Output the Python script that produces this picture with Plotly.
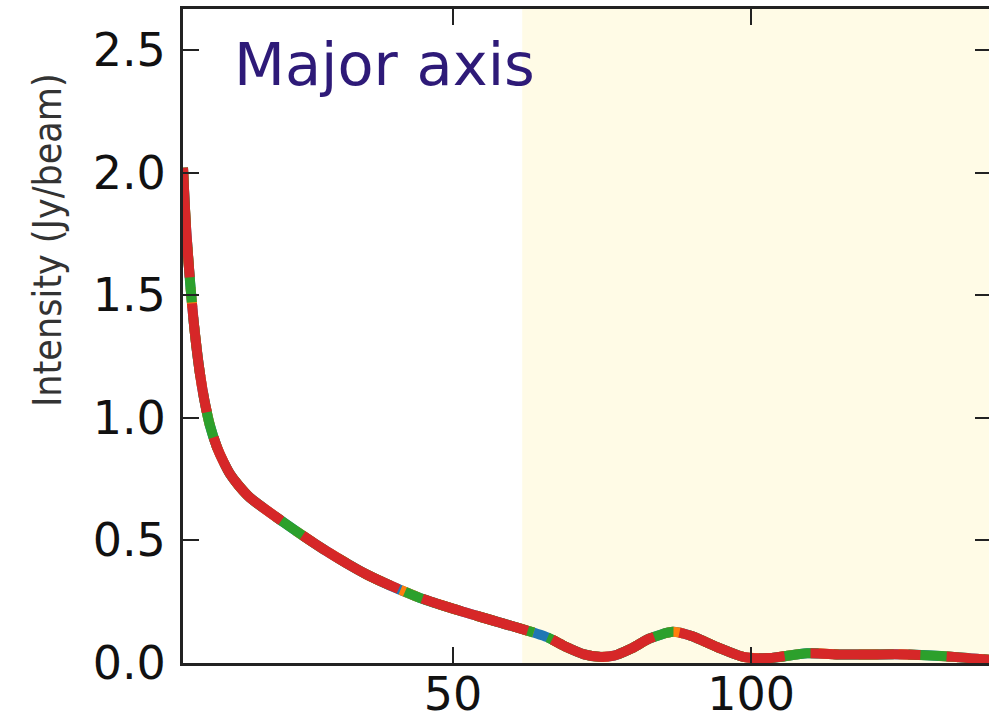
import plotly.graph_objects as go

# ---- data ----
radius = [4.7, 5.2, 5.9, 6.5, 7.0, 7.6, 8.3, 9.2, 10.4, 11.5, 12.6, 14.0, 15.9, 21.5,
          28.2, 35.6, 44.0, 49.5, 55.0, 60.0, 65.8, 69.0, 72.0, 74.5, 77.0, 80.0,
          83.0, 86.9, 90.0, 94.3, 98.7, 103.0, 109.4, 115.0, 120.0, 126.0, 134.0, 140.4]
intensity = [2.02, 1.78, 1.55, 1.39, 1.28, 1.17, 1.07, 0.97, 0.88, 0.82, 0.77, 0.725,
             0.675, 0.575, 0.465, 0.36, 0.27, 0.225, 0.185, 0.15, 0.105, 0.065, 0.035,
             0.025, 0.03, 0.06, 0.10, 0.127, 0.11, 0.065, 0.025, 0.02, 0.04, 0.035,
             0.035, 0.035, 0.025, 0.012]
series_names = ["model 1", "model 2", "model 3", "model 4"]
series_colors = ["#1f77b4", "#ff7f0e", "#2ca02c", "#d62728"]
series_dash = ["solid", "20px,20px", "60px,15px", "110px,26px"]
shade_start = 61.6
x_range = [4.7, 139.9]
y_range = [0.0, 2.667]
y_ticks = [0.0, 0.5, 1.0, 1.5, 2.0, 2.5]
x_ticks = [50, 100]
panel_label = "Major axis"
y_title = "Intensity (Jy/beam)"

fig = go.Figure()
for name, col, dash in zip(series_names, series_colors, series_dash):
    fig.add_trace(go.Scatter(x=radius, y=intensity, mode="lines", name=name,
                             line=dict(color=col, width=10, dash=dash, shape="spline", smoothing=0.7)))

# invisible trace for right-side ticks
fig.add_trace(go.Scatter(x=[radius[0]], y=[intensity[0]], yaxis="y2", mode="lines",
                         line=dict(width=0), showlegend=False, hoverinfo="skip"))

fig.add_shape(type="rect", xref="x", yref="paper", x0=shade_start, x1=x_range[1] + 5,
              y0=0, y1=1, fillcolor="#fffbe6", line=dict(width=0), layer="below")

fig.add_annotation(text=panel_label, xref="paper", yref="paper",
                   x=(232 - 183) / 806, y=(663 - 64) / 654, xanchor="left", yanchor="middle",
                   showarrow=False, font=dict(family="DejaVu Sans", size=59, color="#2e1a78"))
fig.add_annotation(text=y_title, xref="paper", yref="paper",
                   x=(47 - 183) / 806, y=(663 - 240) / 654, xanchor="center", yanchor="middle",
                   textangle=-90, showarrow=False,
                   font=dict(family="DejaVu Sans Condensed, DejaVu Sans", size=39, color="#333333"))

axis_font = dict(family="DejaVu Sans", size=46, color="#111111")
fig.update_layout(
    width=989, height=725,
    margin=dict(l=183, r=0, t=9, b=62, autoexpand=False),
    paper_bgcolor="white", plot_bgcolor="white",
    showlegend=False,
    xaxis=dict(range=x_range, tickvals=x_ticks, ticks="inside", ticklen=16, tickwidth=2,
               tickcolor="#222222", showline=True, linecolor="#222222", linewidth=3,
               mirror="ticks", showgrid=False, zeroline=False, tickfont=axis_font,
               ticklabelstandoff=-11, automargin=False),
    yaxis=dict(range=y_range, tickvals=y_ticks, tickformat=".1f", ticks="inside", ticklen=16,
               tickwidth=2, tickcolor="#222222", showline=True, linecolor="#222222",
               linewidth=3, mirror=False, showgrid=False, zeroline=False, tickfont=axis_font,
               ticklabelstandoff=5, automargin=False),
    yaxis2=dict(range=y_range, tickvals=y_ticks, overlaying="y", side="right", ticks="inside",
                ticklen=14, tickwidth=2, tickcolor="#222222", showline=False,
                showticklabels=False, showgrid=False, zeroline=False, automargin=False),
)

fig.write_html("out.html")
